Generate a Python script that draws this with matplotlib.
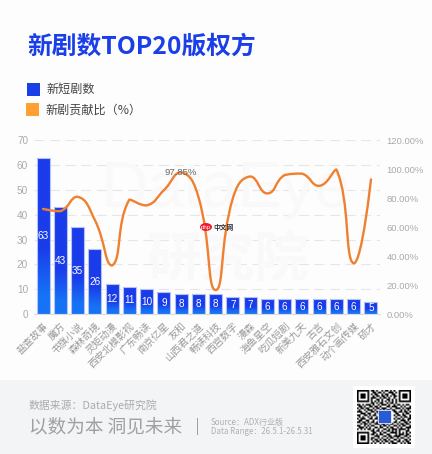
import numpy as np
import matplotlib
matplotlib.use("Agg")
import matplotlib.pyplot as plt
from matplotlib.path import Path
from matplotlib.patches import PathPatch, Rectangle, Ellipse
from matplotlib.colors import LinearSegmentedColormap

plt.rcParams['font.family'] = ['Noto Sans CJK SC', 'DejaVu Sans']

categories = ['盐查故事', '魔方', '书旗小说', '森林奇境', '灵矩动漫', '西安北模影视', '广东畅读', '南京亿星', '友和',
              '山西君之道', '畅读科技', '西宫数字', '漫森', '海鱼星空', '吃瓜短剧', '新美九天', '古言',
              '西安雅石文创', '动个画传媒', '硕才']
new_dramas = [63, 43, 35, 26, 12, 11, 10, 9, 8, 8, 8, 7, 7, 6, 6, 6, 6, 6, 6, 5]
contribution = [72.6, 71, 81, 65, 33.5, 79, 75, 85.5, 97.85, 81, 16.5, 80, 95, 83.3, 96, 97, 88.5, 99.8, 35, 93]
left_ticks = [0, 10, 20, 30, 40, 50, 60, 70]
right_ticks = [0, 20, 40, 60, 80, 100, 120]

qr_rows = [
    "1111111011010010110101001111111",
    "1000001001101101001110101000001",
    "1011101010110010110011001011101",
    "1011101001011011010101101011101",
    "1011101011100101101001001011101",
    "1000001010011010011010101000001",
    "1111111010101010101010101111111",
    "0000000011010110010110100000000",
    "1101011101001011101001011010110",
    "0110100110110100011011100101001",
    "1011011001011011100100111010111",
    "0100101110100101011011000101010",
    "1110010011011000000001101101101",
    "0011101100101000000000110010110",
    "1100110101100000000001011011001",
    "0101001010010000000000100101101",
    "1011100110110000000001011010011",
    "0110011001001000000000100111010",
    "1101101011010000000001101001101",
    "0010110100111011010110010110110",
    "1100101011000101101001101011001",
    "0111010100110110010110010100111",
    "1010101101001001101011101111010",
    "0000000011011010011010101000110",
    "1111111001100101100111101010101",
    "1000001011010110011000101110110",
    "1011101000111001101101111001101",
    "1011101011001010010110010110010",
    "1011101010110101101001101001101",
    "1000001001011010110110011010110",
    "1111111010100101001011100101011",
]

W, H = 432, 454
fig = plt.figure(figsize=(W / 100, H / 100), dpi=100, facecolor='#fdfdfd')

def fx(x): return x / W
def fy(y): return 1 - y / H

# footer band
fig.add_artist(Rectangle((0, 0), 1, fy(380), transform=fig.transFigure, fc='#f3f4f6', ec='none', zorder=0))

# watermark
wm = '#f9f9f9'
fig.text(fx(226), fy(190), 'DataEye', fontsize=47, color=wm, ha='center', va='center',
         family=['Liberation Sans'], zorder=0.5)
fig.text(fx(228), fy(260), '研究院', fontsize=39, color=wm, ha='center', va='center', fontweight='bold', zorder=0.5)

# title & legend
fig.text(fx(27), fy(47), '新剧数TOP20版权方', fontsize=17.8, fontweight='bold', color='#1a3ee8', ha='left', va='center')
fig.add_artist(Rectangle((fx(27), fy(96)), 13 / W, 13 / H, transform=fig.transFigure, fc='#1a3ee8', ec='none'))
fig.add_artist(Rectangle((fx(26), fy(116)), 13 / W, 13 / H, transform=fig.transFigure, fc='#ffa033', ec='none'))
fig.text(fx(47), fy(89.5), '新短剧数', fontsize=8.7, color='#444444', ha='left', va='center')
fig.text(fx(46), fy(110), '新剧贡献比（%）', fontsize=8.7, color='#444444', ha='left', va='center')

# axes
ax = fig.add_axes([fx(34.4), fy(314), (379.6 - 34.4) / W, (314 - 140.3) / H], facecolor='none')
x = np.arange(len(categories))
cmap = LinearSegmentedColormap.from_list('bar', [(0, '#1672f6'), (0.12, '#1672f6'), (0.42, '#1a3ceb'), (1, '#1a3ceb')])
grad = np.linspace(1, 0, 128).reshape(-1, 1)
bars = ax.bar(x, new_dramas, width=0.75, fc='none', ec='#b4c2f4', lw=0.8, zorder=3)
for b, v in zip(bars, new_dramas):
    im = ax.imshow(grad, cmap=cmap, vmin=0, vmax=1, aspect='auto', zorder=2.5,
                   extent=(b.get_x(), b.get_x() + b.get_width(), 0, v))
    im.set_clip_path(b.get_path(), b.get_transform())
    ax.text(b.get_x() + b.get_width() / 2, v / 2, str(v), color='white', ha='center', va='center',
            fontsize=7.2, family=['Liberation Sans'], zorder=4)
ax.set_xlim(-0.5, len(categories) - 0.5)
ax.set_ylim(0, 70)
ax.set_yticks(left_ticks)
ax.set_xticks(x)
ax.set_xticklabels(categories, rotation=45, ha='right', rotation_mode='anchor', fontsize=7.1, color='#9a9a9a')
ax.tick_params(axis='x', length=0, pad=5)
ax.tick_params(axis='y', length=0, pad=4.5, labelsize=7.2, labelcolor='#aaaaaa')
for t in ax.get_yticklabels():
    t.set_family(['Liberation Sans'])
ax.grid(axis='y', color='#e6e6e6', lw=0.8, dashes=(9, 5), zorder=1)
ax.set_axisbelow(True)
for s in ('top', 'left', 'right'):
    ax.spines[s].set_visible(False)
ax.spines['bottom'].set_color('#dcdcdc')
ax.spines['bottom'].set_linewidth(0.8)

# line axis
ax2 = ax.twinx()
ax2.set_ylim(0, 120)
ax2.set_yticks(right_ticks)
ax2.set_yticklabels([f'{t:.2f}%' for t in right_ticks], family=['Liberation Sans'])
ax2.tick_params(axis='y', length=0, pad=5, labelsize=6.8, labelcolor='#aaaaaa')
for s in ax2.spines.values():
    s.set_visible(False)
ax2.set_zorder(5)
ax2.patch.set_visible(False)

# smooth line: control points scaled by neighbour distance and clamped to the segment's range
y = np.array(contribution, dtype=float)
xs = x.astype(float)
sx, sy = 17.26, 1.45
n = len(xs)
smooth = 0.5
out_cp = [(xs[0], y[0])] * n
in_cp = [(xs[-1], y[-1])] * n
for i in range(1, n - 1):
    lp = np.hypot((xs[i] - xs[i - 1]) * sx, (y[i] - y[i - 1]) * sy)
    ln = np.hypot((xs[i + 1] - xs[i]) * sx, (y[i + 1] - y[i]) * sy)
    t = lp + ln
    dx, dy = (xs[i + 1] - xs[i - 1]) * smooth, (y[i + 1] - y[i - 1]) * smooth
    in_x = xs[i] - dx * lp / t
    in_y = y[i] - dy * lp / t
    out_x = xs[i] + dx * ln / t
    out_y = y[i] + dy * ln / t
    in_cp[i] = (in_x, float(np.clip(in_y, min(y[i - 1], y[i]), max(y[i - 1], y[i]))))
    out_cp[i] = (out_x, float(np.clip(out_y, min(y[i + 1], y[i]), max(y[i + 1], y[i]))))
verts, codes = [(xs[0], y[0])], [Path.MOVETO]
for i in range(n - 1):
    verts += [out_cp[i], in_cp[i + 1], (xs[i + 1], y[i + 1])]
    codes += [Path.CURVE4] * 3
ax2.add_patch(PathPatch(Path(verts, codes), fc='none', ec='#f08030', lw=1.7, capstyle='round', joinstyle='round'))
peak = int(np.argmax(np.array(contribution[:10])))
ax2.text(xs[peak] - 0.05, y[peak] + 0.2, f'{contribution[peak]:.2f}%', ha='center', va='center', fontsize=6.8,
         color='#666666', family=['Liberation Sans'])

# php badge
fig.add_artist(Ellipse((fx(206), fy(227)), 12 / W, 8 / H, transform=fig.transFigure, fc='#ee1c2e', ec='none', zorder=7))
fig.text(fx(206), fy(227), 'php', fontsize=4.4, color='white', ha='center', va='center',
         family=['Liberation Sans'], zorder=8)
fig.text(fx(213), fy(227), '中文网', fontsize=4.9, fontweight='bold', color='#333333', ha='left', va='center', zorder=8)

# footer text
fig.text(fx(29), fy(405), '数据来源：DataEye研究院', fontsize=7.8, color='#ababab', ha='left', va='center')
fig.text(fx(29), fy(427), '以数为本 洞见未来', fontsize=13.4, color='#a0a0a0', ha='left', va='center')
fig.add_artist(Rectangle((fx(196.5), fy(435)), 1 / W, 17 / H, transform=fig.transFigure, fc='#a0a0a0', ec='none'))
fig.text(fx(211), fy(422.5), 'Source：ADX行业版', fontsize=5.8, color='#b0b0b0', ha='left', va='center')
fig.text(fx(211), fy(432), 'Data Range：26.5.1-26.5.31', fontsize=5.7, color='#b0b0b0', ha='left', va='center')

# QR code
fig.add_artist(Rectangle((fx(353), fy(448)), 62 / W, 62 / H, transform=fig.transFigure, fc='white', ec='none', zorder=1))
qax = fig.add_axes([fx(357), fy(444), 54 / W, 54 / H], zorder=8)
qax.imshow([[1 - int(c) for c in r] for r in qr_rows], cmap='gray', vmin=0, vmax=1, interpolation='bilinear', aspect='auto')
qax.axis('off')
fig.add_artist(Rectangle((fx(378), fy(423)), 13 / W, 13 / H, transform=fig.transFigure, fc='#2a5bd7', ec='white', lw=0.5, zorder=9))

fig.savefig('out.png', dpi=100, facecolor=fig.get_facecolor())
